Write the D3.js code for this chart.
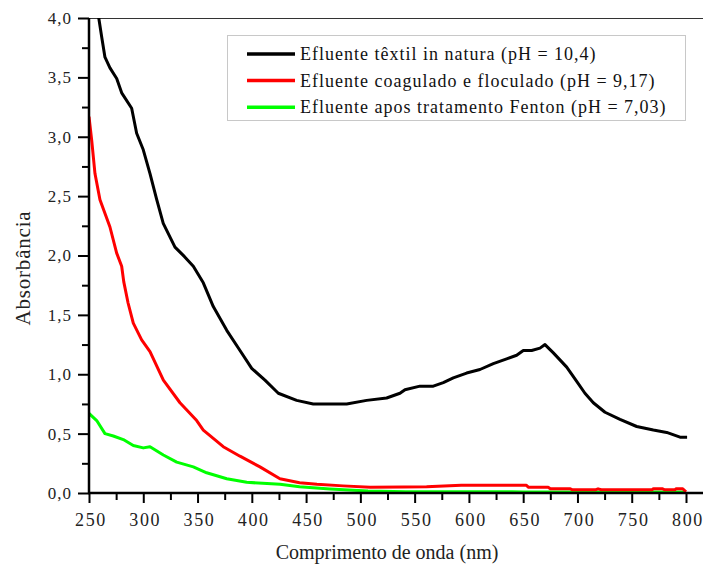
<!DOCTYPE html>
<html>
<head>
<meta charset="utf-8">
<script src="https://cdn.jsdelivr.net/npm/d3@7"></script>
<style>
  body { margin: 0; background: #fff; }
  svg { display: block; font-family: "Liberation Serif", "Times New Roman", serif; }
</style>
</head>
<body>
<div class="chart"></div>
<script>
// dimensions de la figure
const width = 703;
const height = 570;

// séries (longueur d'onde en nm, absorbance)
const nmNatura = [256, 259, 261.7, 264.7, 269.3, 275.5, 280.1, 289.3, 293.9, 300, 306.2, 312.4, 318.4, 329.2, 338, 346.1, 355.3, 364.5, 376.9, 389.1, 399.9, 412.1, 424.4, 441.3, 456.6, 475, 487.4, 505.8, 524.2, 536.5, 541.1, 554.9, 567.2, 576.4, 585.6, 597.9, 610.2, 622.5, 634.8, 644, 650.1, 657.8, 665.5, 670.1, 677.8, 690.1, 699.3, 706.9, 714.6, 725.4, 739.2, 754.6, 769.9, 782.2, 794.5, 801];
const absNatura = [4.25, 4.00, 3.84, 3.67, 3.58, 3.49, 3.37, 3.24, 3.03, 2.89, 2.69, 2.47, 2.27, 2.07, 1.99, 1.91, 1.77, 1.57, 1.37, 1.20, 1.05, 0.95, 0.84, 0.78, 0.75, 0.75, 0.75, 0.78, 0.80, 0.84, 0.87, 0.90, 0.90, 0.93, 0.97, 1.01, 1.04, 1.09, 1.13, 1.16, 1.20, 1.20, 1.22, 1.25, 1.18, 1.06, 0.94, 0.84, 0.76, 0.68, 0.62, 0.56, 0.53, 0.51, 0.47, 0.47];

const nmCoag = [250, 252.5, 255.5, 260.1, 269.3, 275.5, 280.1, 282, 286, 290.8, 298.5, 306.2, 318.5, 333.8, 349.2, 355.3, 373.7, 389.1, 407.5, 425.9, 444, 460, 484, 509, 540, 561, 593, 630, 653, 655, 673, 675, 693, 695, 717, 719, 722, 769, 770, 778, 780, 790, 791, 797, 800];
const absCoag = [3.17, 2.97, 2.69, 2.47, 2.24, 2.02, 1.91, 1.78, 1.60, 1.43, 1.29, 1.19, 0.95, 0.76, 0.61, 0.53, 0.39, 0.31, 0.22, 0.12, 0.087, 0.073, 0.06, 0.048, 0.05, 0.053, 0.065, 0.065, 0.065, 0.048, 0.048, 0.036, 0.036, 0.028, 0.028, 0.035, 0.028, 0.028, 0.036, 0.036, 0.028, 0.028, 0.036, 0.036, 0.01];

const nmFenton = [250, 257.1, 264.7, 272.4, 281.6, 290.8, 300, 306.2, 318.5, 330.8, 346.1, 358.4, 376.9, 395.3, 426, 444, 472, 507, 542, 640, 650, 800];
const absFenton = [0.67, 0.61, 0.50, 0.48, 0.45, 0.40, 0.38, 0.39, 0.32, 0.26, 0.22, 0.17, 0.12, 0.09, 0.073, 0.053, 0.034, 0.017, 0.011, 0.011, 0.008, 0.008];

const legendLabels = [
  "Efluente têxtil in natura (pH = 10,4)",
  "Efluente coagulado e floculado (pH = 9,17)",
  "Efluente apos tratamento Fenton (pH = 7,03)"
];
const seriesColors = ["#000000", "#ff0000", "#00ff00"];

const xMajor = [250, 300, 350, 400, 450, 500, 550, 600, 650, 700, 750, 800];
const xMinor = [275, 325, 375, 425, 475, 525, 575, 625, 675, 725, 775];
const yMajor = [0, 0.5, 1, 1.5, 2, 2.5, 3, 3.5, 4];
const yMinor = [0.25, 0.75, 1.25, 1.75, 2.25, 2.75, 3.25, 3.75];

const series = [
  { nm: nmNatura, abs: absNatura },
  { nm: nmCoag, abs: absCoag },
  { nm: nmFenton, abs: absFenton }
];

const svg = d3.select('.chart')
  .append('svg')
  .attr('width', width)
  .attr('height', height);

const x = d3.scaleLinear()
  .domain([250, 800])
  .range([89, 686]);

const y = d3.scaleLinear()
  .domain([0, 4])
  .range([493, 18]);

const fmt = d => d3.format('.1f')(d).replace('.', ',');

// bordure du haut
svg.append('line')
  .attr('x1', 89).attr('x2', width)
  .attr('y1', 18.5).attr('y2', 18.5)
  .attr('stroke', '#333')
  .attr('stroke-width', 1);

// courbes
svg.append('clipPath').attr('id', 'plot')
  .append('rect')
  .attr('x', 89).attr('y', 18)
  .attr('width', width - 89).attr('height', 475);

const line = d3.line()
  .x(d => x(d[0]))
  .y(d => y(d[1]));

svg.append('g')
  .attr('clip-path', 'url(#plot)')
  .selectAll('path')
  .data(series.slice().reverse())
  .join('path')
    .attr('d', s => line(s.nm.map((v, i) => [v, s.abs[i]])))
    .attr('fill', 'none')
    .attr('stroke', (s, i) => seriesColors[2 - i])
    .attr('stroke-width', 3)
    .attr('stroke-linejoin', 'round');

// axe x
const gx = svg.append('g')
  .attr('transform', `translate(0, 493)`);
gx.call(d3.axisBottom(x).tickValues(xMinor).tickSize(7).tickFormat(''))
  .call(g => g.select('.domain').remove());
gx.append('g')
  .call(d3.axisBottom(x).tickValues(xMajor).tickSize(10).tickPadding(10))
  .call(g => g.select('.domain').remove())
  .call(g => g.selectAll('text')
    .attr('fill', '#222')
    .attr('dx', '0.08em')
    .style('font-family', '"Liberation Serif", serif')
    .style('letter-spacing', '1.6px')
    .style('font-size', '18px'));
gx.selectAll('.tick line').attr('stroke', '#000').attr('stroke-width', 2);
gx.append('line')
  .attr('x1', 88).attr('x2', width)
  .attr('stroke', '#000').attr('stroke-width', 2.5);

// axe y
const gy = svg.append('g')
  .attr('transform', `translate(89, 0)`);
gy.call(d3.axisLeft(y).tickValues(yMinor).tickSize(7).tickFormat(''))
  .call(g => g.select('.domain').remove());
gy.append('g')
  .call(d3.axisLeft(y).tickValues(yMajor).tickSize(11).tickPadding(6).tickFormat(fmt))
  .call(g => g.select('.domain').remove())
  .call(g => g.selectAll('text')
    .attr('fill', '#222')
    .style('font-family', '"Liberation Serif", serif')
    .style('letter-spacing', '1px')
    .style('font-size', '17px'));
gy.selectAll('.tick line').attr('stroke', '#000').attr('stroke-width', 2);
gy.append('line')
  .attr('y1', 18).attr('y2', 494)
  .attr('stroke', '#000').attr('stroke-width', 2.5);

// titres des axes
svg.append('text')
  .attr('x', 387)
  .attr('y', 559)
  .attr('text-anchor', 'middle')
  .style('font-size', '20px')
  .attr('fill', '#222')
  .text('Comprimento de onda (nm)');

svg.append('text')
  .attr('transform', 'translate(30, 268) rotate(-90)')
  .attr('text-anchor', 'middle')
  .style('font-size', '21px')
  .style('letter-spacing', '0.8px')
  .attr('fill', '#222')
  .text('Absorbância');

// légende
const legend = svg.append('g');
legend.append('rect')
  .attr('x', 227.5).attr('y', 35.5)
  .attr('width', 458).attr('height', 85)
  .attr('fill', '#fff')
  .attr('stroke', '#c8c8c8');

const rows = legend.selectAll('g.row')
  .data(legendLabels)
  .join('g')
    .attr('class', 'row')
    .attr('transform', (d, i) => `translate(0, ${54 + i * 26.6})`);
rows.append('line')
  .attr('x1', 247).attr('x2', 295)
  .attr('stroke', (d, i) => seriesColors[i])
  .attr('stroke-width', 3.5);
rows.append('text')
  .attr('x', 300)
  .attr('y', 6)
  .style('font-size', '18px')
  .style('letter-spacing', '1px')
  .attr('fill', '#111')
  .text(d => d);
</script>
</body>
</html>
